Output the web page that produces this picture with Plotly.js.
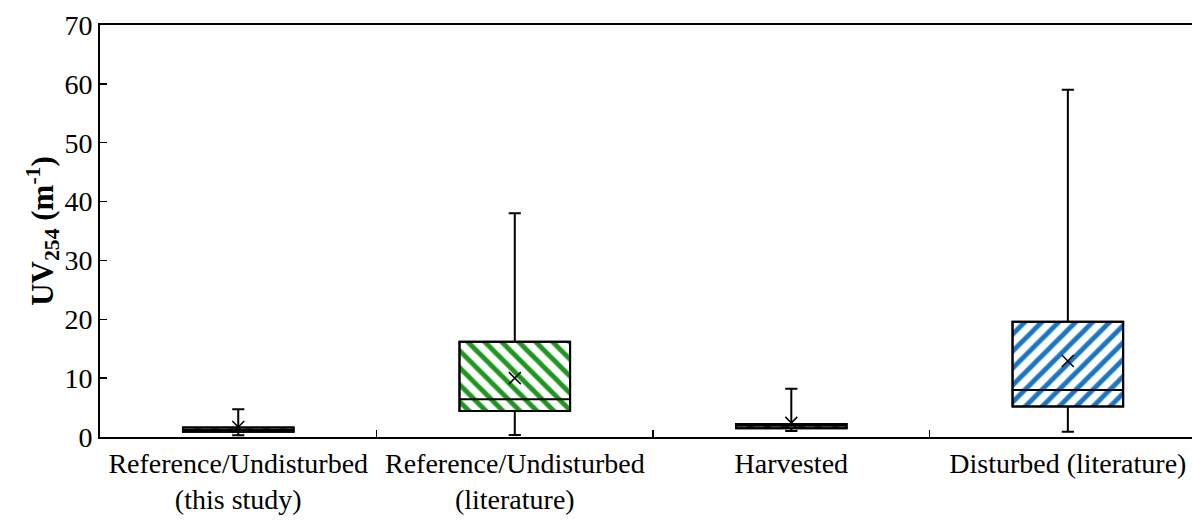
<!DOCTYPE html>
<html>
<head>
<meta charset="utf-8">
<script src="https://cdn.plot.ly/plotly-3.0.1.min.js"></script>
<style>html,body{margin:0;padding:0;background:#fff;}#chart{width:1192px;height:521px;}</style>
</head>
<body>
<div id="chart"></div>
<script>
const categories = ["Reference/Undisturbed<br>(this study)", "Reference/Undisturbed<br>(literature)", "Harvested", "Disturbed (literature)"];
const minValues    = [0.3, 0.35, 1.0, 0.9];
const q1Values     = [0.9, 4.4, 1.5, 5.2];
const medianValues = [1.2, 6.4, 1.9, 8.0];
const q3Values     = [1.6, 16.2, 2.2, 19.6];
const maxValues    = [4.7, 38.0, 8.2, 59.0];
const meanValues   = [1.7, 10.0, 2.4, 12.9];
const fillColors   = ["#1f961f", "#1f961f", "#1a4f8a", "#1a76c4"];
const fillShapes   = ["\\", "\\", "/", "/"];
const yTicks = [0, 10, 20, 30, 40, 50, 60, 70];

const font = "Liberation Serif, Times New Roman, serif";

const boxBars = {
  type: "bar",
  x: categories,
  base: q1Values,
  y: q3Values.map((v, i) => v - q1Values[i]),
  width: 0.4,
  marker: {
    color: "#ffffff",
    line: {color: "#000000", width: 2},
    pattern: {shape: fillShapes, fgcolor: fillColors, bgcolor: "#ffffff", size: 12, solidity: 0.4, fillmode: "replace"}
  },
  hoverinfo: "skip",
  showlegend: false
};

const boxes = {
  type: "box",
  x: categories,
  q1: q1Values,
  median: medianValues,
  q3: q3Values,
  lowerfence: minValues,
  upperfence: maxValues,
  width: 0.4,
  whiskerwidth: 0.11,
  boxpoints: false,
  fillcolor: "rgba(0,0,0,0)",
  line: {color: "#000000", width: 2},
  showlegend: false
};

const means = {
  type: "scatter",
  mode: "markers",
  x: categories,
  y: meanValues,
  marker: {symbol: "x-thin-open", size: 12, color: "#000000", line: {color: "#000000", width: 1.5}},
  showlegend: false
};

const layout = {
  width: 1192,
  height: 521,
  margin: {l: 100, r: 0, t: 25, b: 84},
  paper_bgcolor: "#ffffff",
  plot_bgcolor: "#ffffff",
  font: {family: font, color: "#000000", size: 28},
  barmode: "overlay",
  xaxis: {
    type: "category",
    categoryorder: "array",
    categoryarray: categories,
    range: [-0.5, 3.449],
    showline: true,
    linecolor: "#000000",
    linewidth: 2,
    mirror: true,
    ticks: "inside",
    tickson: "boundaries",
    ticklen: 7,
    tickwidth: 1.5,
    tickcolor: "#000000",
    tickangle: 0,
    showgrid: false,
    zeroline: false,
    tickfont: {family: font, size: 28, color: "#000000"}
  },
  yaxis: {
    range: [0, 70],
    tickvals: yTicks,
    ticktext: yTicks.map(String),
    showline: true,
    linecolor: "#000000",
    linewidth: 2,
    mirror: false,
    ticks: "inside",
    ticklen: 7,
    tickwidth: 1.5,
    tickcolor: "#000000",
    showgrid: false,
    zeroline: false,
    tickfont: {family: font, size: 28, color: "#000000"},
    title: {text: "<b>UV<sub>254</sub> (m<sup>-1</sup>)</b>", font: {family: font, size: 31, color: "#000000"}, standoff: 2}
  }
};

Plotly.newPlot("chart", [boxBars, boxes, means], layout, {staticPlot: true, displayModeBar: false});
</script>
</body>
</html>
